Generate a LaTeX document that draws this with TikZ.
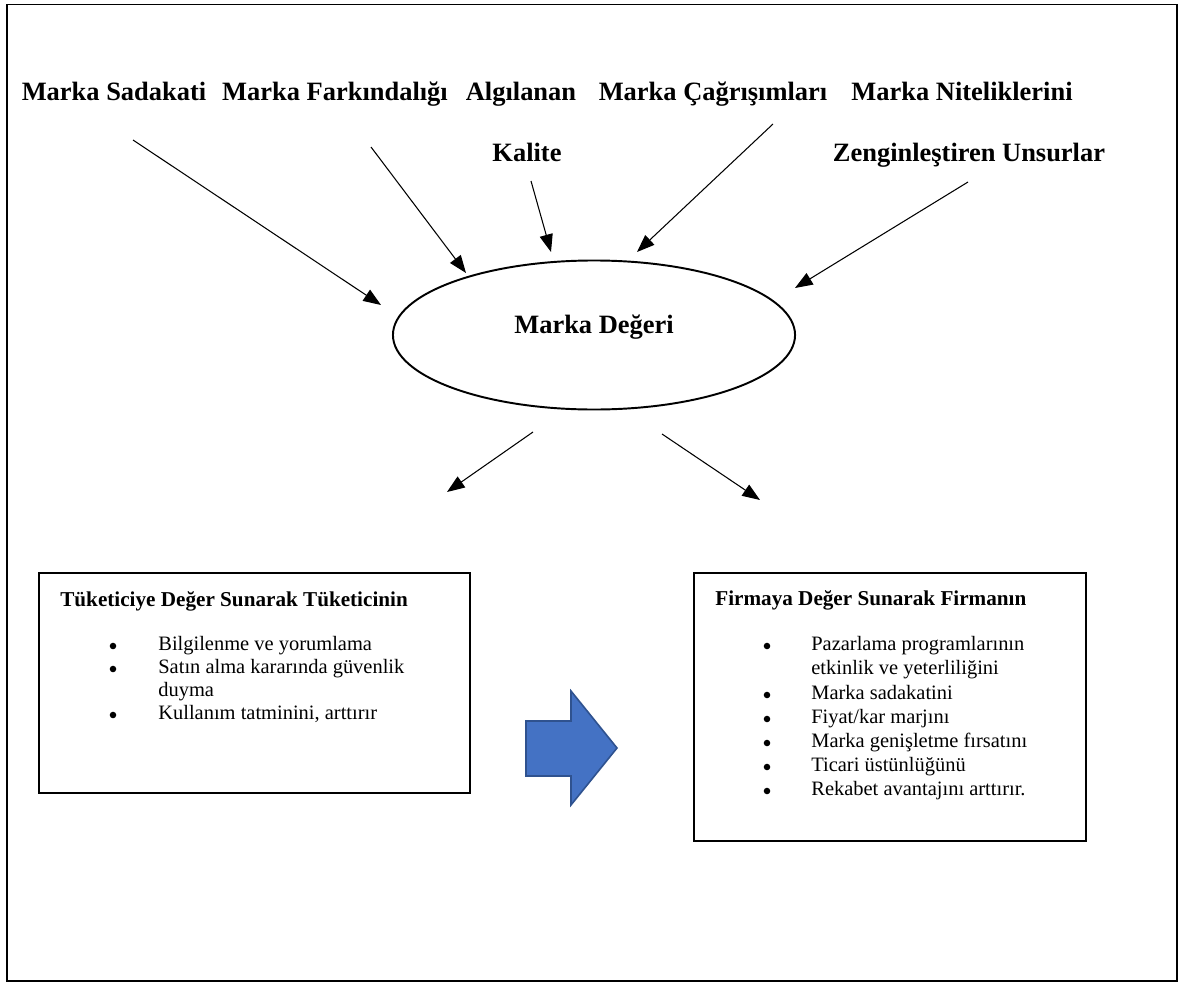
\documentclass[tikz,border=0pt]{standalone}
\usepackage{fontspec}
\setmainfont{Liberation Serif}
\usetikzlibrary{arrows.meta,shapes.geometric}
\definecolor{arrowblue}{HTML}{4472C4}
\definecolor{arrowedge}{HTML}{2F528F}
\begin{document}
\begin{tikzpicture}[x=0.567pt,y=-0.567pt,
  factor/.style={font=\fontsize{15}{18}\selectfont\bfseries,anchor=base,inner sep=0pt},
  link/.style={line width=0.6pt,-{Triangle[length=10pt,width=7.5pt]}},
  boxtitle/.style={font=\fontsize{12}{14}\selectfont\bfseries,anchor=base west,inner sep=0pt},
  item/.style={font=\fontsize{11.6}{13.5}\selectfont,anchor=base west,inner sep=0pt},
  dot/.style={circle,fill,inner sep=0pt,minimum size=3.7pt},
  panel/.style={draw,line width=1.1pt,anchor=north west,inner sep=0pt}]
\useasboundingbox (0,0) rectangle (1179,983);
% outer frame
\draw[line width=0.9pt] (7,4.5) rectangle (1177,981);

% brand equity dimensions
\node[factor] (sadakat) at (114,100) {Marka Sadakati};
\node[factor] (farkind) at (335,100) {Marka Farkındalığı};
\node[factor] (algi)    at (521,100) {Algılanan};
\node[factor] (kalite)  at (527,161) {Kalite};
\node[factor] (cagri)   at (713,100) {Marka Çağrışımları};
\node[factor] (nitel)   at (962,100) {Marka Niteliklerini};
\node[factor] (zengin)  at (969,161) {Zenginleştiren Unsurlar};

% central ellipse
\node[draw,ellipse,line width=1.1pt,minimum width=228pt,minimum height=84.5pt,inner sep=0pt] (deger) at (594,335) {};
\node[factor] (degertext) at (594,333) {Marka Değeri};

% arrow ends
\coordinate (s1) at (133,140); \coordinate (t1) at (381,305);
\coordinate (s2) at (371,147); \coordinate (t2) at (466,273);
\coordinate (s3) at (531,181); \coordinate (t3) at (551,252);
\coordinate (s4) at (773,124); \coordinate (t4) at (637,252);
\coordinate (s5) at (968,182); \coordinate (t5) at (795,288);
\coordinate (s6) at (533,432); \coordinate (t6) at (447,492);
\coordinate (s7) at (662,434); \coordinate (t7) at (760,500);
\draw[link] (s1) -- (t1);
\draw[link] (s2) -- (t2);
\draw[link] (s3) -- (t3);
\draw[link] (s4) -- (t4);
\draw[link] (s5) -- (t5);
\draw[link] (s6) -- (t6);
\draw[link] (s7) -- (t7);

% consumer box
\node[panel,minimum width=244.5pt,minimum height=124.7pt] (tuketici) at (38,572) {};
\node[boxtitle] (ttitle) at (60,606) {Tüketiciye Değer Sunarak Tüketicinin};
\node[dot] (tb1) at (113,646) {}; \node[item] (ti1) at (158,650) {Bilgilenme ve yorumlama};
\node[dot] (tb2) at (113,669) {}; \node[item] (ti2) at (158,673) {Satın alma kararında güvenlik};
\node[item] (ti2b) at (158,696) {duyma};
\node[dot] (tb3) at (113,715) {}; \node[item] (ti3) at (158,719) {Kullanım tatminini, arttırır};

% firm box
\node[panel,minimum width=222.3pt,minimum height=152pt] (firma) at (693,572) {};
\node[boxtitle] (ftitle) at (715,605) {Firmaya Değer Sunarak Firmanın};
\node[dot] (fb1) at (767,646) {}; \node[item] (fi1) at (811,650) {Pazarlama programlarının};
\node[item] (fi1b) at (811,674) {etkinlik ve yeterliliğini};
\node[dot] (fb2) at (767,695) {}; \node[item] (fi2) at (811,699) {Marka sadakatini};
\node[dot] (fb3) at (767,719) {}; \node[item] (fi3) at (811,723) {Fiyat/kar marjını};
\node[dot] (fb4) at (767,743) {}; \node[item] (fi4) at (811,747) {Marka genişletme fırsatını};
\node[dot] (fb5) at (767,767) {}; \node[item] (fi5) at (811,771) {Ticari üstünlüğünü};
\node[dot] (fb6) at (767,791) {}; \node[item] (fi6) at (811,795) {Rekabet avantajını arttırır.};

% block arrow between the boxes
\draw[fill=arrowblue,draw=arrowedge,line width=0.9pt,line join=miter]
  (526,721) -- (571,721) -- (571,691) -- (617,748) -- (571,805) -- (571,776) -- (526,776) -- cycle;
\end{tikzpicture}
\end{document}
